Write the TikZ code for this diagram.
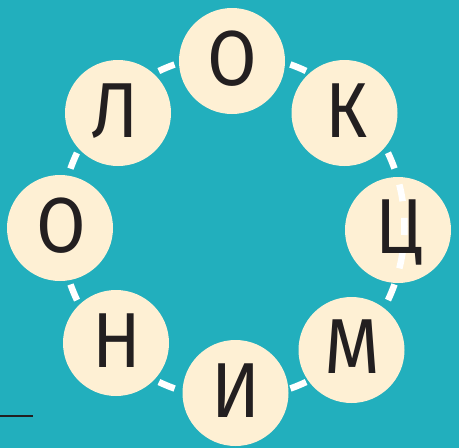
\documentclass[tikz,border=0pt]{standalone}
\usepackage{fontspec}
\newfontfamily\letterfont{Fira Sans}
\definecolor{bgteal}{HTML}{22AFBD}
\definecolor{cream}{HTML}{FEF0D4}
\definecolor{inkdark}{HTML}{231F20}
\tikzset{
  ball/.style={circle, fill=cream, minimum size=106pt, inner sep=0pt},
  letter/.style={anchor=base, inner sep=0pt, text=inkdark, font=\letterfont\fontsize{78}{80}\selectfont},
  ring/.style={draw=white, line width=6.5pt, dash pattern=on 17pt off 16.772pt, dash phase=8.5pt}
}
\newcommand{\narrow}[1]{\scalebox{0.92}[1]{#1}}
\begin{document}
\begin{tikzpicture}[x=1pt,y=-1pt]
\fill[bgteal] (0,0) rectangle (459,448);
\useasboundingbox (0,0) rectangle (459,448);
\coordinate (hub) at (232.5,226.5);
\draw[ring] (hub) ++(172,0) arc[start angle=0, end angle=360, radius=172];
\node[ball] (b1) at (232,61) {};
\node[ball] (b2) at (344.5,113) {};
\node[ball] (b3) at (398,230) {};
\node[ball] (b4) at (351.5,350) {};
\node[ball] (b5) at (235.5,393) {};
\node[ball] (b6) at (116,343) {};
\node[ball] (b7) at (60,228) {};
\node[ball] (b8) at (118,113) {};
\begin{scope}
\clip (b3) circle[radius=53];
\draw[ring] (hub) ++(172,0) arc[start angle=0, end angle=360, radius=172];
\end{scope}
\node[letter] (t1) at (232.5,85) {\narrow{О}};
\node[letter] (t2) at (346.5,137) {\narrow{К}};
\node[letter] (t3) at (399,253) {\narrow{Ц}};
\node[letter] (t4) at (352.5,373) {\narrow{М}};
\node[letter] (t5) at (236,417) {\narrow{И}};
\node[letter] (t6) at (116.5,367) {\narrow{Н}};
\node[letter] (t7) at (61,252) {\narrow{О}};
\node[letter] (t8) at (115,137) {\narrow{Л}};
\coordinate (lineA) at (0,416);
\coordinate (lineB) at (33,416);
\draw[inkdark, line width=2.7pt] (lineA) -- (lineB);
\end{tikzpicture}
\end{document}
